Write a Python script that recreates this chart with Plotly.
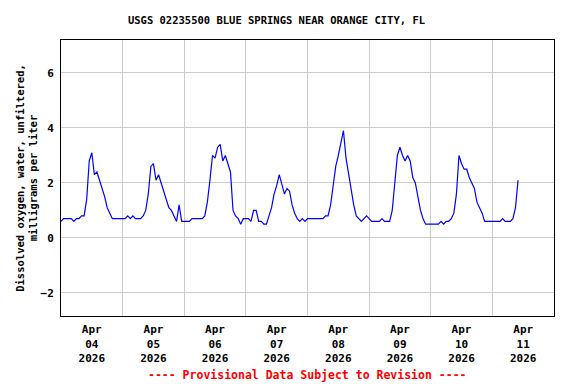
import plotly.graph_objects as go
import pandas as pd

# Hourly dissolved oxygen values (mg/L) starting 2026-04-04 00:00
apr04 = [0.6, 0.7, 0.7, 0.7, 0.7, 0.6, 0.7, 0.7, 0.8, 0.8, 1.4, 2.8,
         3.1, 2.3, 2.4, 2.1, 1.8, 1.5, 1.1, 0.9, 0.7, 0.7, 0.7, 0.7]
apr05 = [0.7, 0.7, 0.8, 0.7, 0.8, 0.7, 0.7, 0.7, 0.8, 1.0, 1.6, 2.6,
         2.7, 2.1, 2.3, 2.0, 1.7, 1.4, 1.1, 1.0, 0.8, 0.6, 1.2, 0.6]
apr06 = [0.6, 0.6, 0.6, 0.7, 0.7, 0.7, 0.7, 0.7, 0.8, 1.3, 2.1, 3.0,
         2.9, 3.3, 3.4, 2.8, 3.0, 2.7, 2.4, 1.0, 0.8, 0.7, 0.5, 0.7]
apr07 = [0.7, 0.7, 0.6, 1.0, 1.0, 0.6, 0.6, 0.5, 0.5, 0.8, 1.1, 1.6,
         1.9, 2.3, 1.9, 1.6, 1.8, 1.7, 1.2, 0.9, 0.7, 0.6, 0.7, 0.6]
apr08 = [0.7, 0.7, 0.7, 0.7, 0.7, 0.7, 0.7, 0.8, 0.8, 1.2, 2.0, 2.6,
         3.0, 3.4, 3.9, 2.9, 2.3, 1.8, 1.2, 0.8, 0.7, 0.6, 0.7, 0.8]
apr09 = [0.7, 0.6, 0.6, 0.6, 0.6, 0.7, 0.6, 0.6, 0.6, 1.0, 1.9, 3.0,
         3.3, 3.0, 2.8, 3.0, 2.8, 2.2, 2.0, 1.5, 1.0, 0.7, 0.5, 0.5]
apr10 = [0.5, 0.5, 0.5, 0.5, 0.6, 0.5, 0.6, 0.6, 0.7, 0.9, 1.6, 3.0,
         2.7, 2.5, 2.5, 2.2, 2.0, 1.8, 1.3, 1.1, 0.9, 0.6, 0.6, 0.6]
apr11 = [0.6, 0.6, 0.6, 0.6, 0.7, 0.6, 0.6, 0.6, 0.7, 1.1, 2.1]

values = apr04 + apr05 + apr06 + apr07 + apr08 + apr09 + apr10 + apr11
times = pd.date_range("2026-04-04 00:00", periods=len(values), freq="h")

title_text = "USGS 02235500 BLUE SPRINGS NEAR ORANGE CITY, FL"
y_title = "Dissolved oxygen, water, unfiltered,<br>milligrams per liter"
footer = "---- Provisional Data Subject to Revision ----"
y_ticks = [-2, 0, 2, 4, 6]

mono = "DejaVu Sans Mono"

# page body has an 8px margin, so the figure is 8px smaller than the window
W, H = 568, 376

fig = go.Figure()
fig.add_trace(go.Scatter(x=times, y=values, mode="lines",
                         line=dict(color="#0000ff", width=1.2),
                         hoverinfo="x+y"))

fig.update_layout(
    width=W, height=H,
    margin=dict(l=49, r=22, t=32, b=68),
    paper_bgcolor="white", plot_bgcolor="white",
    showlegend=False,
    font=dict(family=mono, size=11, color="black", weight="bold"),
    title=dict(text=title_text, x=268.5 / W, xref="container", xanchor="center",
               y=1 - 12 / H, yref="container", yanchor="middle",
               font=dict(family=mono, size=10.5, color="black", weight="bold")),
    xaxis=dict(
        range=["2026-04-04 00:00", "2026-04-12 00:00"],
        tick0="2026-04-04 12:00", dtick=86400000,
        tickformat="%b<br>%d<br>%Y",
        showgrid=False, ticks="",
        ticklabelstandoff=3,
        showline=True, linecolor="black", linewidth=1, mirror=True,
        zeroline=False,
        tickfont=dict(family=mono, size=11, weight="bold"),
        minor=dict(tick0="2026-04-04 00:00", dtick=86400000,
                   showgrid=True, gridcolor="#cccccc", gridwidth=1, ticks=""),
    ),
    yaxis=dict(
        range=[-2.84, 7.2],
        tickvals=y_ticks,
        showgrid=True, gridcolor="#cccccc", gridwidth=1,
        showline=True, linecolor="black", linewidth=1, mirror=True,
        zeroline=False, ticks="",
        ticklabelstandoff=4,
        tickfont=dict(family=mono, size=11, weight="bold"),
        title=dict(text=y_title, standoff=0,
                   font=dict(family=mono, size=10.5, weight="bold")),
    ),
    annotations=[dict(text=footer, xref="paper", yref="paper",
                      x=0.5, y=-(375 - 316) / 276, xanchor="center",
                      yanchor="middle", showarrow=False,
                      font=dict(family=mono, size=11.5, color="red",
                                weight="bold"))],
)

fig.write_html("out.html")
